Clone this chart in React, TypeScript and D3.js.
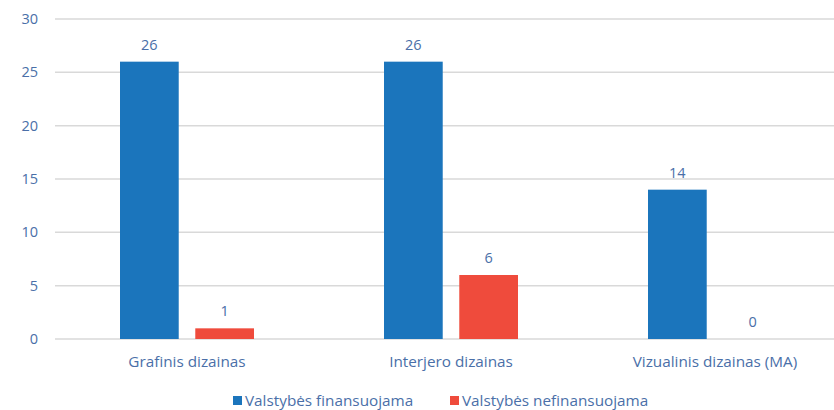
import React, { useEffect } from "react";
import * as d3 from "d3";

const categories = ["Grafinis dizainas", "Interjero dizainas", "Vizualinis dizainas (MA)"];
const seriesNames = ["Valstybės finansuojama", "Valstybės nefinansuojama"];
const funded = [26, 26, 14];
const unfunded = [1, 6, 0];
const yTicks = [0, 5, 10, 15, 20, 25, 30];
const colors = ["#1b75bc", "#ef4b3c"];

const W = 834;
const H = 410;
const FONT = "'Open Sans', Lato, sans-serif";
const TEXT = "#4a6fa8";

export default function App() {
  useEffect(() => {
    document.body.style.margin = "0";
  }, []);

  const x = d3.scaleBand<string>().domain(categories).range([55, 847]).paddingInner(0).paddingOuter(0);
  const inner = d3.scaleBand<string>().domain(seriesNames).range([65, 199]).paddingInner(0.22);
  const y = d3.scaleLinear().domain([0, 30]).range([339, 19]);
  const series = [funded, unfunded];

  return (
    <svg width={W} height={H} style={{ display: "block" }} fontFamily={FONT}>
      <rect width={W} height={H} fill="#fff" />
      {yTicks.map((t) => (
        <g key={t}>
          <line x1={55} x2={W} y1={y(t)} y2={y(t)} stroke="#d9d9d9" strokeWidth={1.5} />
          <text x={38} y={y(t)} dy="0.35em" textAnchor="end" fontSize={14.5} fill={TEXT}>
            {t}
          </text>
        </g>
      ))}
      {categories.map((c, i) => (
        <g key={c}>
          {series.map((s, si) => {
            const bx = (x(c) as number) + (inner(seriesNames[si]) as number);
            const bw = inner.bandwidth();
            return (
              <g key={si}>
                <rect x={bx} y={y(s[i])} width={bw} height={y(0) - y(s[i])} fill={colors[si]} />
                <text x={bx + bw / 2} y={y(s[i]) - 12} textAnchor="middle" fontSize={14.5} fill={TEXT}>
                  {s[i]}
                </text>
              </g>
            );
          })}
          <text x={(x(c) as number) + x.bandwidth() / 2} y={367} textAnchor="middle" fontSize={15.3} fill={TEXT}>
            {c}
          </text>
        </g>
      ))}
      {seriesNames.map((n, i) => {
        const lx = [233, 450][i];
        return (
          <g key={n}>
            <rect x={lx} y={396} width={9} height={9} fill={colors[i]} />
            <text x={lx + 12} y={406} fontSize={15.3} fill={TEXT}>
              {n}
            </text>
          </g>
        );
      })}
    </svg>
  );
}
